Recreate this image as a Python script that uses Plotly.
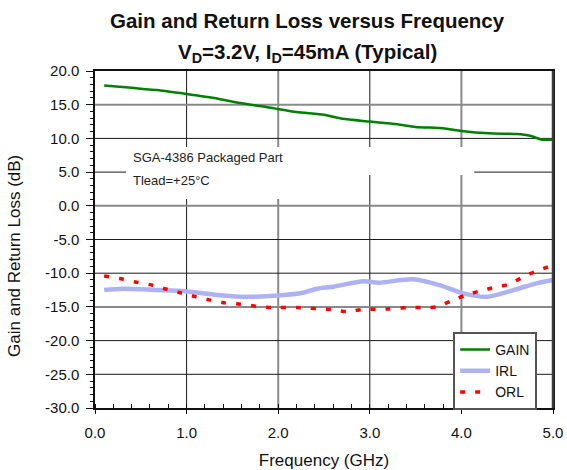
import plotly.graph_objects as go

# Measured small-signal performance of the packaged amplifier
gain_freq = [0.1, 0.4, 0.7, 1.0, 1.3, 1.6, 1.9, 2.2, 2.5, 2.7, 3.0, 3.3, 3.5,
             3.8, 4.0, 4.3, 4.6, 4.75, 4.87, 5.0]
gain_db = [17.85, 17.5, 17.15, 16.6, 16.0, 15.2, 14.6, 13.9, 13.5, 12.9, 12.5,
           12.1, 11.7, 11.5, 11.1, 10.75, 10.65, 10.4, 9.85, 9.8]

irl_freq = [0.1, 0.3, 0.67, 1.0, 1.4, 1.62, 2.0, 2.27, 2.42, 2.6, 2.93, 3.1,
            3.47, 3.77, 4.02, 4.28, 4.57, 4.82, 5.0]
irl_db = [-12.5, -12.3, -12.5, -12.7, -13.3, -13.5, -13.3, -12.9, -12.3, -12.0,
          -11.2, -11.4, -10.9, -11.8, -13.0, -13.5, -12.5, -11.5, -11.0]

orl_freq = [0.1, 0.27, 0.44, 0.6, 0.76, 0.93, 1.1, 1.26, 1.42, 1.59, 1.76, 1.93,
            2.2, 2.58, 2.75, 2.91, 3.2, 3.42, 3.58, 3.73, 3.89, 4.04, 4.21,
            4.37, 4.53, 4.68, 4.84, 5.0]
orl_db = [-10.4, -10.8, -11.3, -11.7, -12.3, -12.9, -13.5, -14.0, -14.4, -14.6,
          -14.9, -15.1, -15.1, -15.4, -15.7, -15.4, -15.3, -15.1, -15.1, -15.0,
          -14.1, -13.3, -12.6, -12.1, -11.6, -10.5, -9.6, -8.8]

x_ticks = [0, 1, 2, 3, 4, 5]
y_ticks = [20, 15, 10, 5, 0, -5, -10, -15, -20, -25, -30]
x_ticklabels = [f"{v:.1f}" for v in x_ticks]
y_ticklabels = [f"{v:.1f}" for v in y_ticks]
# grid lines drawn in a softer grey; the rest are dark
soft_x_grid = [2, 4]
soft_y_grid = [15, 0, -15]

title_line1 = "Gain and Return Loss versus Frequency"
title_line2 = "V<sub>D</sub>=3.2V, I<sub>D</sub>=45mA (Typical)"
note_part = "SGA-4386 Packaged Part"
note_temp = "Tlead=+25°C"

BASE_FONT = "Liberation Sans, Arial, sans-serif"

fig = go.Figure()
fig.add_trace(go.Scatter(x=gain_freq, y=gain_db, name="GAIN", mode="lines",
                         line=dict(color="#008000", width=2.5, shape="spline", smoothing=0.6)))
fig.add_trace(go.Scatter(x=irl_freq, y=irl_db, name="IRL", mode="lines",
                         line=dict(color="#aeb2f2", width=4.5, shape="spline", smoothing=0.8)))
fig.add_trace(go.Scatter(x=orl_freq, y=orl_db, name="ORL", mode="lines",
                         line=dict(color="#ff0000", width=3.5, dash="5px,10px",
                                   shape="spline", smoothing=0.6)))

# grid drawn as shapes so each line can take its own shade
for gx in x_ticks[1:-1]:
    soft = gx in soft_x_grid
    fig.add_shape(type="line", xref="x", yref="paper", x0=gx, x1=gx, y0=0, y1=1,
                  line=dict(color="#8a8a8a" if soft else "#1a1a1a", width=2 if soft else 1),
                  layer="below")
for gy in y_ticks[1:-1]:
    soft = gy in soft_y_grid
    fig.add_shape(type="line", xref="paper", yref="y", x0=0, x1=1, y0=gy, y1=gy,
                  line=dict(color="#8a8a8a" if soft else "#1a1a1a", width=2 if soft else 1),
                  layer="below")

# white panels behind the part / temperature notes
fig.add_shape(type="rect", xref="x", yref="y", x0=0.34, x1=4.14, y0=4.57, y1=8.72,
              fillcolor="white", line=dict(width=0), layer="below")
fig.add_shape(type="rect", xref="x", yref="y", x0=0.34, x1=2.24, y0=1.0, y1=4.57,
              fillcolor="white", line=dict(width=0), layer="below")
# heavier right frame edge
fig.add_shape(type="line", xref="paper", yref="paper", x0=1, x1=1, y0=0, y1=1,
              line=dict(color="#3a3a3a", width=2.5), layer="above")

fig.add_annotation(x=0.39, y=7.1, xref="x", yref="y", text=note_part, showarrow=False,
                   xanchor="left", yanchor="middle", font=dict(family=BASE_FONT, size=13, color="#222"))
fig.add_annotation(x=0.39, y=3.7, xref="x", yref="y", text=note_temp, showarrow=False,
                   xanchor="left", yanchor="middle", font=dict(family=BASE_FONT, size=13, color="#222"))

fig.add_annotation(x=0.463, y=1, xref="paper", yref="paper", yshift=51, text=f"<b>{title_line1}</b>",
                   showarrow=False, xanchor="center", yanchor="middle",
                   font=dict(family=BASE_FONT, size=20.5, color="#111"))
fig.add_annotation(x=0.463, y=1, xref="paper", yref="paper", yshift=18, text=f"<b>{title_line2}</b>",
                   showarrow=False, xanchor="center", yanchor="middle",
                   font=dict(family=BASE_FONT, size=20.5, color="#111"))
fig.add_annotation(x=-0.177, y=0.451, xref="paper", yref="paper", text="Gain and Return Loss (dB)",
                   showarrow=False, textangle=-90, xanchor="center", yanchor="middle",
                   font=dict(family=BASE_FONT, size=17, color="#111"))

fig.update_xaxes(range=[0, 5], tickvals=x_ticks, ticktext=x_ticklabels, automargin=False,
                 showgrid=False, zeroline=False,
                 showline=True, linecolor="#111", linewidth=1.5, mirror=True,
                 ticks="outside", ticklen=4, tickcolor="#111",
                 minor=dict(dtick=0.2, ticks="inside", ticklen=4, tickcolor="#111", showgrid=False),
                 tickfont=dict(family=BASE_FONT, size=15, color="#111"),
                 ticklabelstandoff=6,
                 title=dict(text="Frequency (GHz)", standoff=14,
                            font=dict(family=BASE_FONT, size=17, color="#111")))
fig.update_yaxes(range=[-30, 20], tickvals=y_ticks, ticktext=y_ticklabels, automargin=False,
                 showgrid=False, zeroline=False,
                 showline=True, linecolor="#111", linewidth=1.5, mirror=True,
                 ticks="outside", ticklen=7, tickcolor="#111",
                 minor=dict(dtick=1, ticks="outside", ticklen=3, tickcolor="#111", showgrid=False),
                 tickfont=dict(family=BASE_FONT, size=15, color="#111"),
                 ticklabelstandoff=4)

fig.update_layout(
    width=567, height=470,
    margin=dict(l=95, r=14, t=71, b=62, autoexpand=False),
    paper_bgcolor="white", plot_bgcolor="white",
    showlegend=True,
    legend=dict(x=0.782, y=0.2255, xanchor="left", yanchor="top",
                bgcolor="white", bordercolor="#555", borderwidth=2,
                font=dict(family=BASE_FONT, size=14, color="#111"),
                tracegroupgap=0, itemwidth=30),
)

fig.write_html("out.html")
